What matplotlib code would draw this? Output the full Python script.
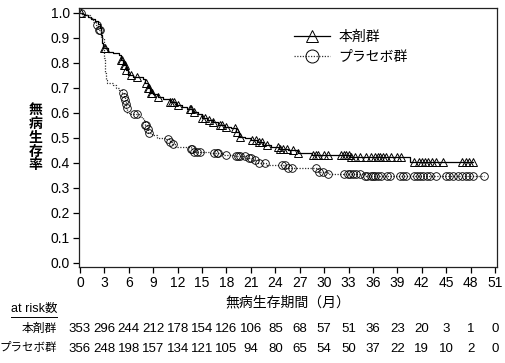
import numpy as np
import matplotlib
matplotlib.use("Agg")
import matplotlib.pyplot as plt
from matplotlib.lines import Line2D
from matplotlib.transforms import blended_transform_factory

plt.rcParams['font.family'] = ['Liberation Sans', 'Noto Sans CJK JP']

# Kaplan-Meier steps (time in months, survival after step)
trt_t = [0, 0.3, 0.6, 1.0, 1.4, 1.8, 2.2, 2.5, 2.6, 2.7, 2.8, 3.5, 4.0, 4.8, 5.0, 5.3, 5.6, 5.9,
         6.5, 7.7, 8.0, 8.3, 8.6, 9.0, 9.6, 10.2, 11.0, 11.8, 12.5, 13.2, 13.8, 14.5, 15.0, 15.6,
         16.3, 17.0, 17.8, 18.6, 19.2, 19.5, 20.3, 21.0, 21.7, 22.5, 23.5, 24.5, 25.5, 26.8, 28.5,
         33.2, 40.5]
trt_s = [1.0, 0.995, 0.99, 0.985, 0.975, 0.968, 0.955, 0.94, 0.91, 0.88, 0.86, 0.845, 0.84, 0.83,
         0.81, 0.79, 0.77, 0.75, 0.745, 0.735, 0.72, 0.70, 0.68, 0.675, 0.665, 0.655, 0.645, 0.63,
         0.625, 0.615, 0.605, 0.595, 0.58, 0.572, 0.562, 0.552, 0.545, 0.538, 0.525, 0.505, 0.5,
         0.49, 0.482, 0.47, 0.462, 0.455, 0.45, 0.44, 0.43, 0.425, 0.403]
trt_end = 48.3
trt_cens = [0.1, 2.9, 3.1, 5.0, 5.2, 5.4, 5.5, 5.7, 6.3, 7.0, 8.1, 8.3, 8.5, 8.7, 8.9, 9.6, 11.0,
            11.3, 11.6, 12.0, 13.5, 13.7, 14.0, 15.0, 15.3, 15.8, 16.3, 17.2, 17.5, 17.9, 19.0,
            19.3, 19.6, 21.1, 21.6, 22.0, 22.4, 23.0, 24.3, 24.6, 24.9, 25.4, 26.2, 26.8, 28.6,
            29.0, 29.3, 30.0, 30.5, 32.1, 32.4, 32.7, 33.0, 33.3, 33.8, 34.4, 35.2, 35.8, 36.3,
            36.6, 36.9, 37.2, 37.6, 38.2, 38.9, 39.4, 41.0, 41.6, 42.0, 42.4, 42.8, 43.2, 43.8,
            44.6, 47.0, 47.4, 47.8, 48.3]

plc_t = [0, 0.3, 0.8, 1.2, 1.6, 2.0, 2.2, 2.6, 2.9, 3.0, 3.1, 3.2, 3.3, 4.0, 4.4, 4.8, 5.2, 5.4,
         5.5, 5.6, 5.7, 5.8, 6.2, 7.2, 7.8, 8.0, 8.2, 8.4, 8.8, 9.5, 10.6, 11.0, 11.3, 11.7, 13.7,
         13.9, 15.8, 17.6, 19.0, 20.4, 21.3, 21.9, 22.8, 25.3, 29.2, 30.5, 35.0]
plc_s = [1.0, 0.995, 0.99, 0.98, 0.965, 0.95, 0.93, 0.9, 0.88, 0.82, 0.76, 0.73, 0.72, 0.71, 0.70,
         0.69, 0.68, 0.665, 0.65, 0.635, 0.62, 0.60, 0.595, 0.585, 0.57, 0.55, 0.535, 0.52, 0.51,
         0.5, 0.495, 0.485, 0.475, 0.465, 0.455, 0.445, 0.44, 0.433, 0.427, 0.418, 0.41, 0.40,
         0.393, 0.38, 0.365, 0.355, 0.347]
plc_end = 49.7
plc_cens = [0.1, 2.1, 2.3, 2.5, 5.3, 5.45, 5.55, 5.65, 5.75, 6.6, 7.0, 8.0, 8.1, 8.3, 8.5, 10.8,
            11.1, 11.4, 13.7, 13.8, 14.0, 14.4, 14.8, 16.5, 16.8, 17.0, 18.0, 19.2, 19.4, 19.6,
            20.3, 20.8, 21.0, 21.5, 22.0, 22.7, 24.8, 25.2, 25.6, 26.0, 29.0, 29.4, 29.8, 30.5,
            32.5, 32.9, 33.2, 33.5, 33.9, 34.4, 35.0, 35.3, 35.7, 36.0, 36.3, 36.6, 37.0, 37.7,
            38.1, 39.3, 39.7, 40.1, 41.0, 41.4, 41.8, 42.2, 42.6, 43.0, 43.8, 45.0, 45.4, 45.8,
            46.4, 47.0, 47.4, 47.8, 48.3, 49.7]

risk_times = list(range(0, 52, 3))
trt_risk = [353, 296, 244, 212, 178, 154, 126, 106, 85, 68, 57, 51, 36, 23, 20, 3, 1, 0]
plc_risk = [356, 248, 198, 157, 134, 121, 105, 94, 80, 65, 54, 50, 37, 22, 19, 10, 2, 0]

groups = ['本剤群', 'プラセボ群']


def surv_at(times, surv, t):
    idx = np.searchsorted(times, t, side='right') - 1
    return np.asarray(surv)[idx]


fig = plt.figure(figsize=(5.05, 3.63), dpi=100)
ax = fig.add_axes([0.156, 0.2645, 0.8275, 0.7135])

# treatment arm
ax.step(trt_t + [trt_end], trt_s + [trt_s[-1]], where='post', color='black', lw=0.9)
ax.plot(trt_cens, surv_at(trt_t, trt_s, trt_cens), ls='none', marker='^', ms=5.5,
        mfc='none', mec='black', mew=0.7)

# placebo arm
ax.step(plc_t + [plc_end], plc_s + [plc_s[-1]], where='post', color='#333333', lw=0.9,
        ls=(0, (1, 1.2)))
ax.plot(plc_cens, surv_at(plc_t, plc_s, plc_cens), ls='none', marker='o', ms=5.5,
        mfc='none', mec='black', mew=0.6)

handles = [Line2D([], [], color='black', lw=0.9, marker='^', ms=5.5, mfc='none', mec='black', mew=0.7),
           Line2D([], [], color='#333333', lw=0.9, ls=(0, (1, 1.2)), marker='o', ms=5.5,
                  mfc='none', mec='black', mew=0.7)]
ax.legend(handles, groups, loc='upper left', bbox_to_anchor=(0.485, 0.965), frameon=False,
          fontsize=10, handlelength=2.6, handletextpad=0.6, markerscale=1.7, labelspacing=0.45)

ax.set_xlim(-0.15, 51.2)
ax.set_ylim(-0.016, 1.02)
ax.set_xticks(risk_times)
ax.set_yticks(np.arange(0, 1.01, 0.1))
ax.yaxis.set_major_formatter(plt.FormatStrFormatter('%.1f'))
ax.tick_params(direction='out', length=4, width=0.9, labelsize=10, pad=2.5)
for s in ax.spines.values():
    s.set_linewidth(0.9)
    s.set_color('#222222')

ax.set_xlabel('無病生存期間（月）', fontsize=10, labelpad=4)
fig.text(0.071, 0.62, '\n'.join('無病生存率'), fontsize=10, fontweight='bold',
         ha='center', va='center', linespacing=0.98)

# at risk table
right = 0.113
lab = fig.text(right, 1 - 309 / 363, 'at risk数', fontsize=9, ha='right', va='center')
fig.text(right, 1 - 329 / 363, groups[0], fontsize=8.5, ha='right', va='center')
fig.text(right, 1 - 348.5 / 363, groups[1], fontsize=8.3, ha='right', va='center')
tr = blended_transform_factory(ax.transData, fig.transFigure)
for t, a, b in zip(risk_times, trt_risk, plc_risk):
    ax.text(t, 1 - 329 / 363, str(a), transform=tr, fontsize=9.5, ha='center', va='center',
            clip_on=False)
    ax.text(t, 1 - 348.5 / 363, str(b), transform=tr, fontsize=9.5, ha='center', va='center',
            clip_on=False)

fig.canvas.draw()
bb = lab.get_window_extent().transformed(fig.transFigure.inverted())
fig.add_artist(Line2D([bb.x0, bb.x1], [bb.y0 - 0.006, bb.y0 - 0.006], color='black', lw=0.7,
                      transform=fig.transFigure))

fig.savefig('out.png', dpi=100)
